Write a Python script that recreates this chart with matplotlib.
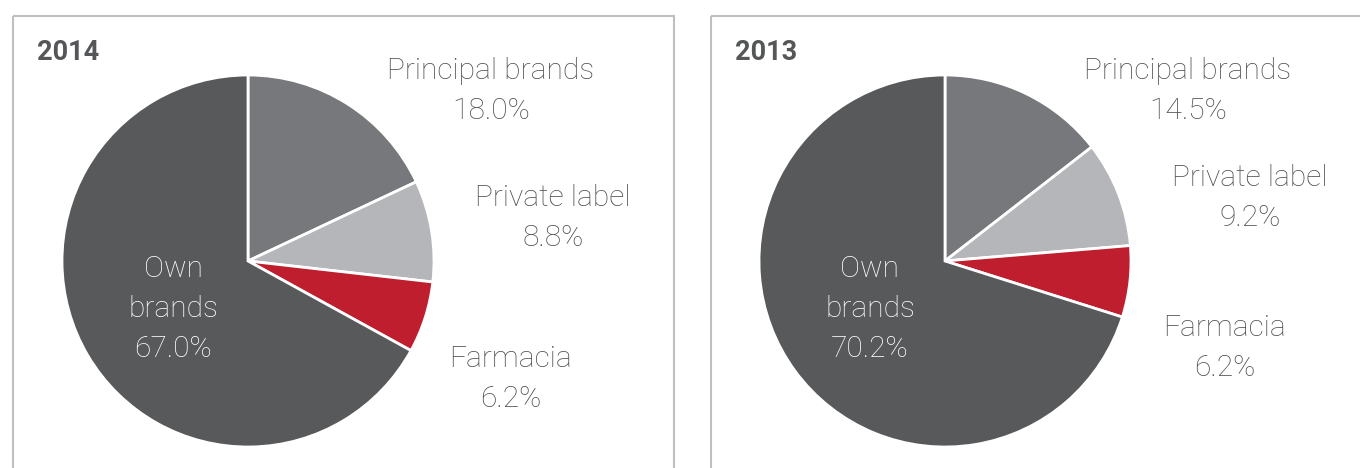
import matplotlib
matplotlib.use("Agg")
import matplotlib.pyplot as plt
from matplotlib.patches import Rectangle

# Sales mix by brand type
years = ["2014", "2013"]
categories = ["Principal brands", "Private label", "Farmacia", "Own brands"]
shares_2014 = [18.0, 8.8, 6.2, 67.0]
shares_2013 = [14.5, 9.2, 6.2, 70.2]
colors = ["#77787b", "#b5b6b9", "#be1e2d", "#58595b"]

W, H = 1360, 468
fig = plt.figure(figsize=(W / 100, H / 100), dpi=100)
fig.patch.set_facecolor("white")

text_col = "#4c4d4f"
font = dict(family=["Roboto", "DejaVu Sans"], fontweight="light")

panels = [
    dict(year=years[0], vals=shares_2014, frame=(13, 16, 661), cx=248, cy=261,
         labels=[(491, 71), (553, 198), (511, 359)], inner=(173, 269)),
    dict(year=years[1], vals=shares_2013, frame=(711, 16, 700), cx=945, cy=261,
         labels=[(1188, 71), (1250, 178), (1225, 328)], inner=(870, 269)),
]
R = 186          # pie radius in px
pad = 1.02       # axes margin so the white wedge edges are not clipped
lh = 40          # line spacing in px

# pies first
for p in panels:
    half = R * pad
    ax = fig.add_axes([(p["cx"] - half) / W, (H - p["cy"] - half) / H,
                       2 * half / W, 2 * half / H])
    ax.pie(p["vals"], colors=colors, startangle=90, counterclock=False, radius=1,
           wedgeprops=dict(edgecolor="white", linewidth=2))
    ax.set_xlim(-pad, pad)
    ax.set_ylim(-pad, pad)
    ax.set_aspect("equal")
    ax.axis("off")

# overlay axes in pixel coordinates (origin top-left) for frames and text
ov = fig.add_axes([0, 0, 1, 1])
ov.set_xlim(0, W)
ov.set_ylim(H, 0)
ov.axis("off")
ov.patch.set_alpha(0)

for p in panels:
    fx, fy, fw = p["frame"]
    ov.add_patch(Rectangle((fx, fy), fw, 600, fill=False, edgecolor="#bfbfbf",
                           linewidth=1.5, zorder=0))
    ov.text(fx + 24, fy + 37, p["year"], fontsize=19.5, fontweight="bold",
            color="#555658", family=["Roboto", "DejaVu Sans"], ha="left", va="center")

    for (x, y), name, v in zip(p["labels"], categories[:3], p["vals"][:3]):
        ov.text(x, y, name, fontsize=21.5, color=text_col, ha="center", va="center", **font)
        ov.text(x, y + lh, f"{v:.1f}%", fontsize=21.5, color=text_col, ha="center",
                va="center", **font)

    ix, iy = p["inner"]
    for i, line in enumerate(["Own", "brands", f"{p['vals'][3]:.1f}%"]):
        ov.text(ix, iy + i * lh, line, fontsize=21.5, color="white", ha="center",
                va="center", zorder=5, **font)

fig.savefig("out.png", dpi=100, facecolor="white")
